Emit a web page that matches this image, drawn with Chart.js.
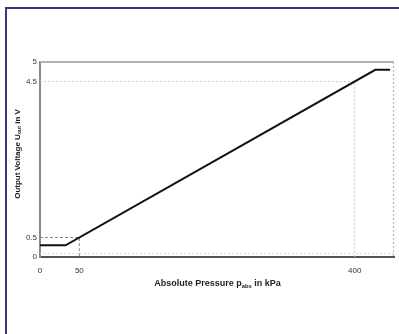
<!DOCTYPE html>
<html>
<head>
<meta charset="utf-8">
<script src="https://cdn.jsdelivr.net/npm/chart.js@4/dist/chart.umd.min.js"></script>
<style>
  html, body { margin: 0; padding: 0; background: #fff; }
  #wrap { position: relative; width: 399px; height: 334px; overflow: hidden; }
  #frame { position: absolute; left: 5px; top: 7px; width: 400px; height: 340px;
           border-left: 2px solid #4b2c83; border-top: 2px solid #4b2c83; pointer-events: none; }
  canvas { position: absolute; left: 0; top: 0; }
</style>
</head>
<body>
<div id="wrap">
  <canvas id="chart" width="399" height="334"></canvas>
  <div id="frame"></div>
</div>
<script>
// sensor transfer curve
const pressure = [0, 32.5, 426.25, 445];
const voltage = [0.3, 0.3, 4.8, 4.8];

// helper lines to the marked points
const refHighX = [0, 400, 400];
const refHighY = [4.5, 4.5, 0];
const refLowX = [0, 50, 50];
const refLowY = [0.5, 0.5, 0];

const xTicks = [0, 50, 400];
const yTicks = [0, 0.5, 4.5, 5];

const toPoints = (xs, ys) => xs.map((x, i) => ({ x: x, y: ys[i] }));
const tickFont = { family: 'Liberation Sans, Arial, sans-serif', size: 8 };

// draws frame top/right and the axis titles with subscripts
const extras = {
    id: 'extras',
    beforeDatasetsDraw(chart) {
        const { ctx, chartArea: a } = chart;
        ctx.save();
        ctx.strokeStyle = '#b4b4b4';
        ctx.lineWidth = 2;
        ctx.beginPath();
        ctx.moveTo(a.left, a.top);
        ctx.lineTo(a.right, a.top);
        ctx.stroke();
        ctx.lineWidth = 1;
        ctx.setLineDash([2, 2]);
        ctx.beginPath();
        ctx.moveTo(a.right - 0.5, a.top);
        ctx.lineTo(a.right - 0.5, a.bottom);
        ctx.stroke();
        ctx.strokeStyle = '#dcdcdc';
        ctx.beginPath();
        ctx.moveTo(a.left, a.bottom - 3.5);
        ctx.lineTo(a.right, a.bottom - 3.5);
        ctx.stroke();
        ctx.restore();
    },
    afterDraw(chart) {
        const { ctx } = chart;
        const drawSub = (parts, cx, cy, size) => {
            const fontOf = p => 'bold ' + (p.sub ? size * 0.65 : size) + 'px Liberation Sans, Arial, sans-serif';
            let total = 0;
            parts.forEach(p => {
                ctx.font = fontOf(p);
                total += ctx.measureText(p.t).width;
            });
            let x = cx - total / 2;
            parts.forEach(p => {
                ctx.font = fontOf(p);
                ctx.fillText(p.t, x, cy + (p.sub ? 2 : 0));
                x += ctx.measureText(p.t).width;
            });
        };
        ctx.save();
        ctx.fillStyle = '#222';
        ctx.textBaseline = 'middle';
        ctx.textAlign = 'left';
        drawSub([{ t: 'Absolute Pressure p' }, { t: 'abs', sub: true }, { t: ' in kPa' }], 217.5, 284, 9);
        ctx.translate(18, 154);
        ctx.rotate(-Math.PI / 2);
        drawSub([{ t: 'Output Voltage U' }, { t: 'out', sub: true }, { t: ' in V' }], 0, 0, 8);
        ctx.restore();
    }
};

new Chart(document.getElementById('chart'), {
    type: 'scatter',
    data: {
        datasets: [
            {
                data: toPoints(pressure, voltage),
                showLine: true,
                borderColor: '#111',
                borderWidth: 2,
                pointRadius: 0,
                order: 0
            },
            {
                data: toPoints(refHighX, refHighY),
                showLine: true,
                borderColor: '#c8c8c8',
                borderWidth: 1,
                borderDash: [2, 2],
                pointRadius: 0,
                order: 2
            },
            {
                data: toPoints(refLowX, refLowY),
                showLine: true,
                borderColor: '#888',
                borderWidth: 1,
                borderDash: [3, 2],
                pointRadius: 0,
                order: 1
            }
        ]
    },
    options: {
        responsive: false,
        animation: false,
        layout: { padding: { left: 0, top: 62, right: 5, bottom: 0 } },
        plugins: { legend: { display: false }, tooltip: { enabled: false } },
        scales: {
            x: {
                type: 'linear',
                min: 0,
                max: 450,
                afterBuildTicks: s => { s.ticks = xTicks.map(v => ({ value: v })); },
                afterFit: s => { s.height = 77; },
                grid: { display: false, drawTicks: false },
                border: { display: true, color: '#555', width: 2 },
                ticks: { font: tickFont, color: '#333', padding: 9, maxRotation: 0, autoSkip: false }
            },
            y: {
                type: 'linear',
                min: 0,
                max: 5,
                afterBuildTicks: s => { s.ticks = yTicks.map(v => ({ value: v })); },
                afterFit: s => { s.width = 40; },
                grid: { display: false, drawTicks: false },
                border: { display: true, color: '#8a8a8a', width: 2 },
                ticks: { font: tickFont, color: '#333', padding: 3, autoSkip: false }
            }
        }
    },
    plugins: [extras]
});
</script>
</body>
</html>
